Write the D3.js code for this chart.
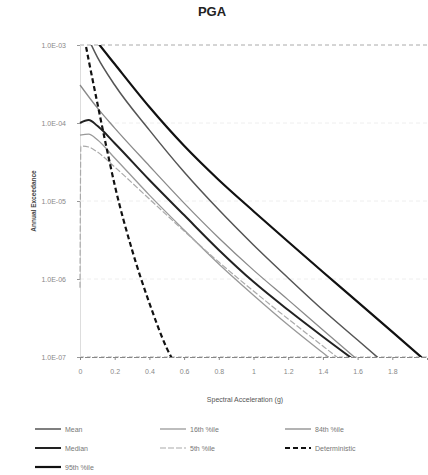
<!DOCTYPE html>
<html>
<head>
<meta charset="utf-8">
<script src="https://cdn.jsdelivr.net/npm/d3@7"></script>
<style>
  body { margin: 0; background: #fff; }
  text { font-family: "Liberation Sans", Arial, sans-serif; }
</style>
</head>
<body>
<svg id="chart"></svg>
<script>
// data (x = spectral acceleration in g, y = annual frequency)
const xs95 = [0, 0.1, 0.2, 0.4, 0.6, 0.8, 1.0, 1.2, 1.4, 1.6, 1.8, 2.0];
const p95 = [2.2e-3, 1.09e-3, 5.7e-4, 1.6e-4, 5.1e-5, 1.86e-5, 7.4e-6, 3.0e-6, 1.23e-6, 5.1e-7, 2.1e-7, 8.6e-8];

const xsMean = [0, 0.1, 0.2, 0.4, 0.6, 0.8, 1.0, 1.2, 1.4, 1.6, 1.8];
const meanVals = [2.1e-3, 7.0e-4, 3.07e-4, 8.1e-5, 2.35e-5, 7.7e-6, 2.73e-6, 1.03e-6, 4.0e-7, 1.65e-7, 6.8e-8];

const xs84 = [0, 0.1, 0.2, 0.4, 0.6, 0.8, 1.0, 1.2, 1.4, 1.6];
const p84 = [3.07e-4, 1.56e-4, 8.6e-5, 2.81e-5, 9.4e-6, 3.36e-6, 1.3e-6, 5.4e-7, 2.22e-7, 9.2e-8];

const xsLow = [0, 0.05, 0.1, 0.2, 0.4, 0.6, 0.8, 1.0, 1.2, 1.4, 1.6];
const median = [1.0e-4, 1.09e-4, 9.2e-5, 5.5e-5, 1.86e-5, 6.6e-6, 2.36e-6, 9.2e-7, 4.0e-7, 1.82e-7, 8.5e-8];
const p16 = [7.0e-5, 7.2e-5, 6.1e-5, 3.56e-5, 1.19e-5, 4.25e-6, 1.56e-6, 6.2e-7, 2.57e-7, 1.13e-7, 5.1e-8];

const xsP5 = [0, 0.005, 0.05, 0.1, 0.2, 0.4, 0.6, 0.8, 1.0, 1.2, 1.4, 1.6];
const p5 = [7.7e-7, 5.07e-5, 4.92e-5, 4.25e-5, 2.73e-5, 1.06e-5, 4.12e-6, 1.65e-6, 7.0e-7, 3.07e-7, 1.38e-7, 6.2e-8];

const xsDet = [0, 0.05, 0.1, 0.15, 0.2, 0.3, 0.4, 0.5, 0.55];
const deterministic = [2.4e-3, 6.4e-4, 1.8e-4, 5.2e-5, 1.6e-5, 2.36e-6, 4.9e-7, 1.3e-7, 7.9e-8];

const xTicks = [0, 0.2, 0.4, 0.6, 0.8, 1.0, 1.2, 1.4, 1.6, 1.8];
const yTicks = [1e-3, 1e-4, 1e-5, 1e-6, 1e-7];

// series table (legend order)
const series = [
  { name: "Mean",          x: xsMean, y: meanVals,      color: "#555", width: 1.5, dash: null },
  { name: "16th %ile",     x: xsLow,  y: p16,           color: "#999", width: 1.3, dash: null },
  { name: "84th %ile",     x: xs84,   y: p84,           color: "#8a8a8a", width: 1.3, dash: null },
  { name: "Median",        x: xsLow,  y: median,        color: "#222", width: 2,   dash: null },
  { name: "5th %ile",      x: xsP5,   y: p5,            color: "#aaa", width: 1.2, dash: "6,2" },
  { name: "Deterministic", x: xsDet,  y: deterministic, color: "#111", width: 2.2, dash: "5,3" },
  { name: "95th %ile",     x: xs95,   y: p95,           color: "#111", width: 2.2, dash: null }
];

const w = 428, h = 475;
const margin = { top: 45, right: 1, bottom: 118, left: 80 };

const svg = d3.select('#chart')
  .attr('width', w)
  .attr('height', h);

svg.append('rect').attr('width', w).attr('height', h).attr('fill', '#fff');

const x = d3.scaleLinear()
  .domain([0, 2])
  .range([margin.left, w - margin.right]);

const y = d3.scaleLog()
  .domain([1e-7, 1e-3])
  .range([h - margin.bottom, margin.top]);

// title
svg.append('text')
  .attr('x', 212).attr('y', 16)
  .attr('text-anchor', 'middle')
  .attr('font-size', 13).attr('font-weight', 'bold')
  .attr('fill', '#222')
  .text('PGA');

// horizontal grid lines at decades
svg.append('g')
  .selectAll('line')
  .data(yTicks)
  .join('line')
  .attr('x1', x(0)).attr('x2', x(2))
  .attr('y1', d => y(d)).attr('y2', d => y(d))
  .attr('stroke', (d, i) => (i === 0 || i === yTicks.length - 1) ? '#aaa' : '#eee')
  .attr('stroke-dasharray', '4,3');

// y axis
const fmtE = d => {
  const e = Math.round(Math.log10(d));
  return '1.0E' + (e < 0 ? '-' : '+') + String(Math.abs(e)).padStart(2, '0');
};
const yAxis = svg.append('g')
  .attr('transform', `translate(${x(0)},0)`)
  .call(d3.axisLeft(y).tickValues(yTicks).tickFormat(fmtE).tickSize(3));
yAxis.select('.domain').attr('stroke', '#ddd');
yAxis.selectAll('.tick line').attr('stroke', '#999');
yAxis.selectAll('text').attr('font-size', 7).attr('fill', '#888').attr('dx', -8);

// x axis
const xAxis = svg.append('g')
  .attr('transform', `translate(0,${y(1e-7)})`)
  .call(d3.axisBottom(x).tickValues(xTicks).tickFormat(d3.format('~g')).tickSize(3));
xAxis.select('.domain').attr('stroke', '#888').attr('stroke-dasharray', '5,2');
xAxis.selectAll('.tick line').attr('stroke', '#888');
xAxis.selectAll('text').attr('font-size', 7).attr('fill', '#888').attr('dy', '1.6em');

// axis titles
svg.append('text')
  .attr('transform', `translate(36,${(y(1e-3) + y(1e-7)) / 2}) rotate(-90)`)
  .attr('text-anchor', 'middle')
  .attr('font-size', 6.5).attr('font-weight', 'bold').attr('fill', '#444')
  .text('Annual Exceedance');

svg.append('text')
  .attr('x', 245).attr('y', 402)
  .attr('text-anchor', 'middle')
  .attr('font-size', 7).attr('fill', '#555')
  .text('Spectral Acceleration (g)');

// curves, clipped to the plot area
svg.append('clipPath').attr('id', 'plot-clip')
  .append('rect')
  .attr('x', x(0) - 2).attr('y', y(1e-3))
  .attr('width', x(2) - x(0) + 2).attr('height', y(1e-7) - y(1e-3));

const line = d3.line()
  .x(d => x(d[0]))
  .y(d => y(d[1]))
  .curve(d3.curveMonotoneX);

svg.append('g')
  .attr('clip-path', 'url(#plot-clip)')
  .selectAll('path')
  .data(series)
  .join('path')
  .attr('d', s => line(s.x.map((v, i) => [v, s.y[i]])))
  .attr('fill', 'none')
  .attr('stroke', s => s.color)
  .attr('stroke-width', s => s.width)
  .attr('stroke-dasharray', s => s.dash);

// legend, 3 columns
const legend = svg.append('g');
const item = legend.selectAll('g')
  .data(series)
  .join('g')
  .attr('transform', (d, i) => `translate(${35 + (i % 3) * 125},${429 + Math.floor(i / 3) * 19})`);

item.append('line')
  .attr('x1', 0).attr('x2', 26)
  .attr('stroke', s => s.color)
  .attr('stroke-width', s => s.width)
  .attr('stroke-dasharray', s => s.dash);

item.append('text')
  .attr('x', 30).attr('y', 2.5)
  .attr('font-size', 7).attr('fill', '#777')
  .text(s => s.name);
</script>
</body>
</html>
